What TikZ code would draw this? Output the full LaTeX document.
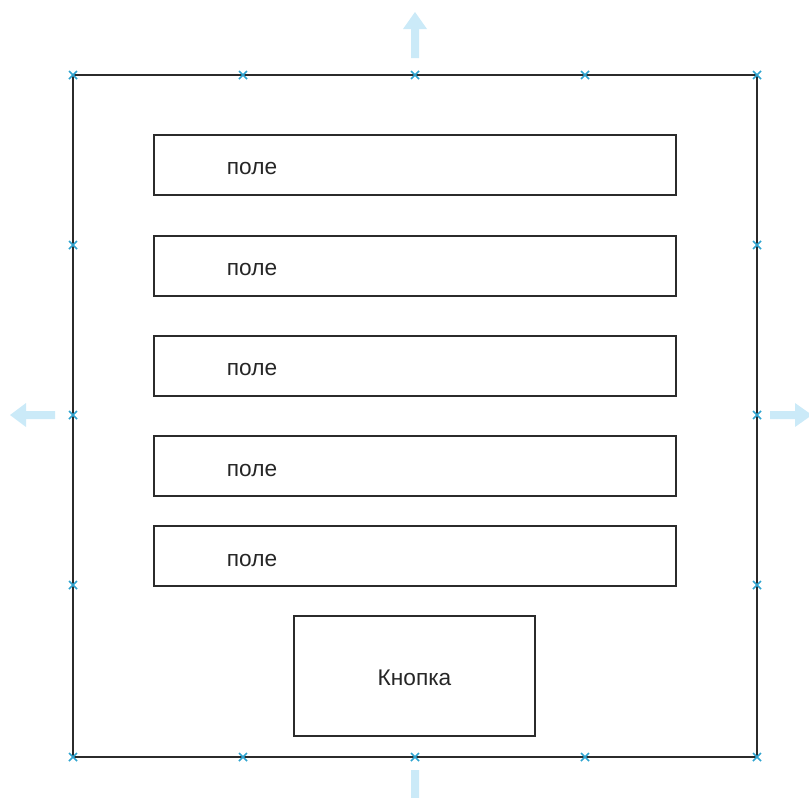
\documentclass[tikz,border=0pt]{standalone}
\usepackage{fontspec}
\setmainfont{Liberation Sans}
\definecolor{edge}{HTML}{2B2B2B}
\definecolor{handle}{HTML}{2FA4D0}
\definecolor{arr}{HTML}{CBEAF8}
\begin{document}
\begin{tikzpicture}[x=0.75pt,y=-0.75pt,
  box/.style={draw=edge,line width=1.1pt,fill=white,inner sep=0pt},
  lbl/.style={font=\fontsize{17}{20}\selectfont,text=black!85,inner sep=0pt},
  mk/.style={handle,line width=1.1pt}]
\useasboundingbox (0,0) rectangle (809,797);
\begin{scope}
\clip (0,0) rectangle (809,797);
% move arrows
\fill[arr] (411,58) -- (411,29) -- (403,29) -- (415,12) -- (427,29) -- (419,29) -- (419,58) -- cycle;
\fill[arr] (55,411) -- (26,411) -- (26,403) -- (10,415) -- (26,427) -- (26,419) -- (55,419) -- cycle;
\fill[arr] (770,411) -- (795,411) -- (795,403) -- (812,415) -- (795,427) -- (795,419) -- (770,419) -- cycle;
\fill[arr] (411,770) -- (411,800) -- (403,800) -- (415,817) -- (427,800) -- (419,800) -- (419,770) -- cycle;
\end{scope}
% outer frame
\node[box,fill=none,minimum width=684*0.75pt,minimum height=682*0.75pt] (frame) at (415,416) {};
% fields
\foreach \i/\y in {1/165,2/266,3/366,4/466,5/556}{
  \node[box,minimum width=522*0.75pt,minimum height=60*0.75pt] (f\i) at (415,\y) {};
  \node[lbl] (t\i) at (252,\y+4) {поле};
}
% button
\node[box,minimum width=241*0.75pt,minimum height=120*0.75pt] (btn) at (414.5,676) {};
\node[lbl] (bt) at ([yshift=-1.5pt]btn.center) {Кнопка};
% handles
\foreach \hx/\hy in {73/75,243/75,415/75,585/75,757/75,
                73/757,243/757,415/757,585/757,757/757,
                73/245,73/415,73/585,757/245,757/415,757/585}{
  \draw[mk] (\hx-4,\hy-4) -- (\hx+4,\hy+4) (\hx-4,\hy+4) -- (\hx+4,\hy-4);
}
\end{tikzpicture}
\end{document}
